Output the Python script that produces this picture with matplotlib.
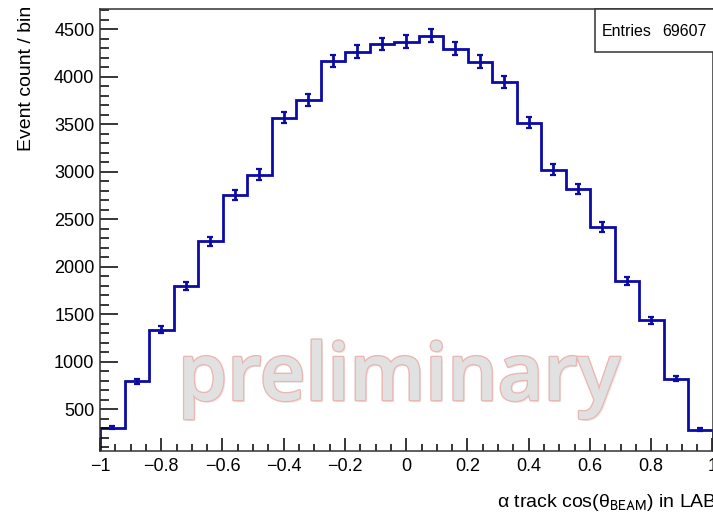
import numpy as np
import matplotlib.pyplot as plt
from matplotlib import patheffects
from matplotlib.patches import Rectangle
from matplotlib.ticker import MultipleLocator

# histogram of cos(theta_beam), 25 bins on [-1, 1]
x_lo, x_hi, n_bins = -1.0, 1.0, 25
counts = [307, 795, 1339, 1798, 2268, 2753, 2970, 3570, 3753, 4166,
          4265, 4345, 4370, 4433, 4297, 4160, 3949, 3518, 3023, 2819,
          2419, 1847, 1437, 823, 286]
entries = 69607

plt.rcParams['font.family'] = ['Liberation Sans', 'DejaVu Sans']
plt.rcParams['mathtext.fontset'] = 'stix'
plt.rcParams['mathtext.default'] = 'regular'

edges = np.linspace(x_lo, x_hi, n_bins + 1)
centers = 0.5 * (edges[:-1] + edges[1:])
counts = np.array(counts, dtype=float)
errors = np.sqrt(counts)  # poisson errors, as the histogram stores them

blue = '#0b0ba6'

fig = plt.figure(figsize=(7.13, 5.14), dpi=100)
ax = fig.add_axes([100 / 713, 63 / 514, 612.5 / 713, 441.7 / 514])

ax.stairs(counts, edges, color=blue, linewidth=2)
ax.errorbar(centers, counts, yerr=errors, fmt='none', ecolor=blue,
            elinewidth=2, capsize=2.5, capthick=1.6)

ax.set_xlim(x_lo, x_hi)
ax.set_ylim(61, 4710)

ax.xaxis.set_minor_locator(MultipleLocator(0.05))
ax.yaxis.set_minor_locator(MultipleLocator(100))
ax.set_yticks(np.arange(500, 4501, 500))
ax.set_xticks(np.arange(-1, 1.01, 0.2))
ax.set_xticklabels(['\u22121', '\u22120.8', '\u22120.6', '\u22120.4', '\u22120.2',
                    '0', '0.2', '0.4', '0.6', '0.8', '1'])

ax.tick_params(axis='x', which='major', direction='in', length=9.5, width=1.1,
               labelsize=13, pad=5)
ax.tick_params(axis='x', which='minor', direction='in', length=4.8, width=1.1)
ax.tick_params(axis='y', which='major', direction='in', length=13, width=1.1,
               labelsize=13, pad=4)
ax.tick_params(axis='y', which='minor', direction='in', length=6.5, width=1.1)
for spine in ax.spines.values():
    spine.set_linewidth(1.1)
    spine.set_color('#333333')

# axis titles
fig.text(27 / 713, 1 - 6 / 514, 'Event count / bin', rotation=90,
         ha='center', va='top', fontsize=14)
fig.text(717 / 713, 1 - 507 / 514,
         r'$\alpha$ track cos($\theta_{\mathsf{BEAM}}$) in LAB',
         ha='right', va='baseline', fontsize=14)

# stats box
box = Rectangle((595 / 713, 1 - 51.7 / 514), 130 / 713, 42.4 / 514,
                transform=fig.transFigure, facecolor='white',
                edgecolor='#333333', linewidth=1.1, zorder=5)
fig.add_artist(box)
fig.text(602 / 713, 1 - 31 / 514, 'Entries', ha='left', va='center',
         fontsize=11.5, zorder=6)
fig.text(707 / 713, 1 - 31 / 514, f'{entries}', ha='right', va='center',
         fontsize=11.5, zorder=6)

# watermark
wm = fig.text(399 / 713, 1 - 400 / 514, 'preliminary', ha='center',
              va='baseline', fontsize=57, family='Open Sans',
              fontweight='semibold', color='#e1e1e1', zorder=10)
wm.set_path_effects([
    patheffects.withSimplePatchShadow(offset=(1.5, -1.5), shadow_rgbFace='#d8d8d8', alpha=0.5),
    patheffects.withStroke(linewidth=2.2, foreground='#eab8b4'),
    patheffects.Normal(),
])

fig.savefig('out.png', dpi=100)
